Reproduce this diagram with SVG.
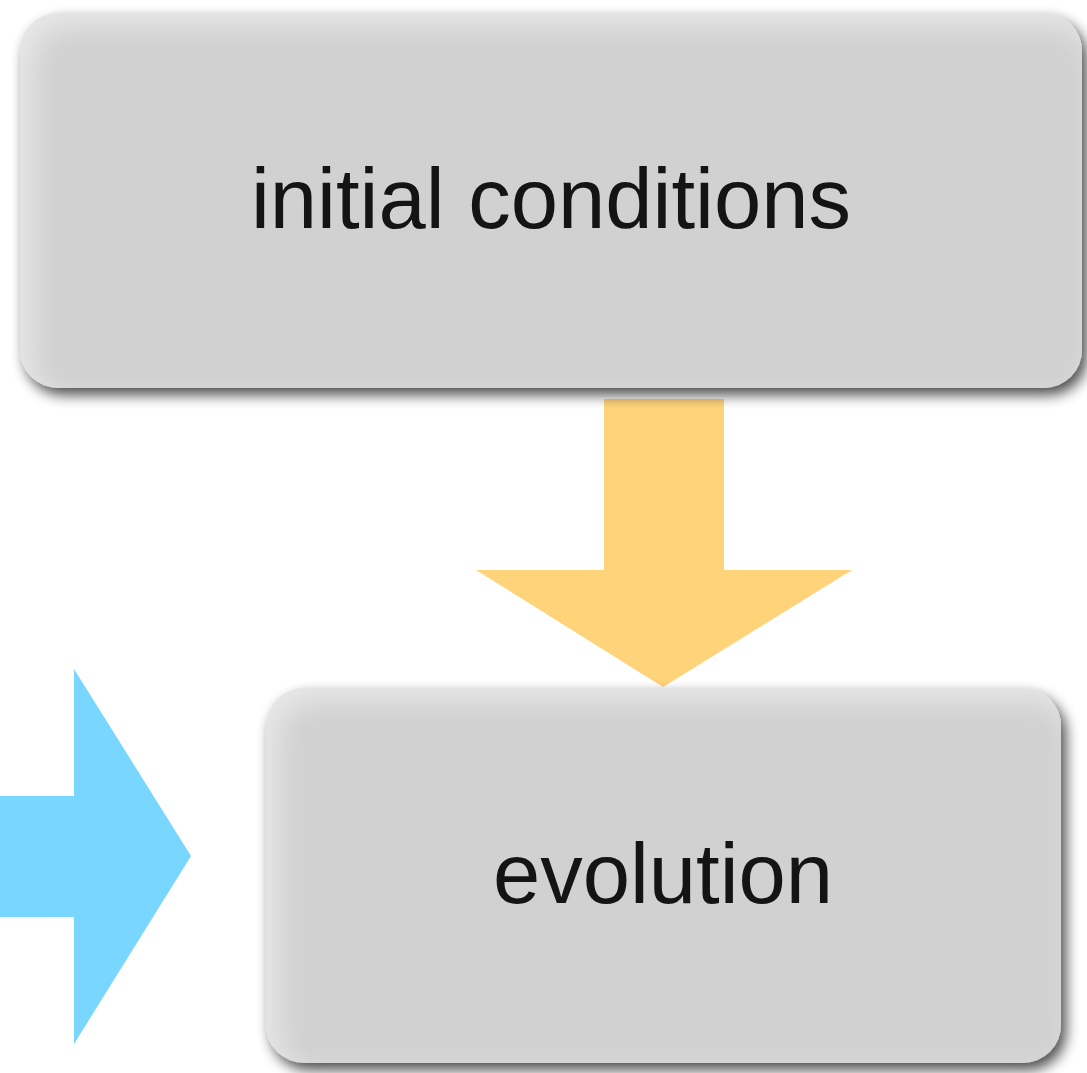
<svg xmlns="http://www.w3.org/2000/svg" width="1087" height="1073" viewBox="0 0 1087 1073">
  <defs>
    <style>
      .box { fill: #d1d1d1; filter: url(#boxfx); }
      .label { font-family: "Liberation Sans", Arial, sans-serif; font-size: 85px; fill: #141414; text-anchor: middle; }
      .down { fill: #fed37a; }
      .right { fill: #79d6ff; }
    </style>
    <!-- drop shadow to the lower right plus a soft light rim along the upper/left edges -->
    <filter id="boxfx" x="-10%" y="-10%" width="125%" height="130%">
      <feGaussianBlur in="SourceAlpha" stdDeviation="7" result="blur"/>
      <feOffset in="blur" dx="5" dy="7" result="offBlur"/>
      <feComponentTransfer in="offBlur" result="shadow">
        <feFuncA type="linear" slope="0.7"/>
      </feComponentTransfer>
      <feGaussianBlur in="SourceAlpha" stdDeviation="14" result="iblur"/>
      <feOffset in="iblur" dx="12" dy="12" result="ioff"/>
      <feComposite in="SourceAlpha" in2="ioff" operator="out" result="rim"/>
      <feFlood flood-color="#ffffff" flood-opacity="0.45"/>
      <feComposite in2="rim" operator="in" result="light"/>
      <feMerge>
        <feMergeNode in="shadow"/>
        <feMergeNode in="SourceGraphic"/>
        <feMergeNode in="light"/>
      </feMerge>
    </filter>
  </defs>
  <rect width="1087" height="1073" fill="#ffffff"/>

  <g id="connectors">
    <polygon class="down" points="604,399 724,399 724,570 852,570 663,687 476,570 604,570"/>
    <polygon class="right" points="0,796 74,796 74,669 191,856 74,1044 74,917 0,917"/>
  </g>

  <g id="node-initial-conditions">
    <rect class="box" x="20" y="13" width="1062" height="375" rx="38" ry="38"/>
    <text class="label" x="551" y="228">initial conditions</text>
  </g>

  <g id="node-evolution">
    <rect class="box" x="266" y="688" width="795" height="375" rx="38" ry="38"/>
    <text class="label" x="663" y="903">evolution</text>
  </g>
</svg>
